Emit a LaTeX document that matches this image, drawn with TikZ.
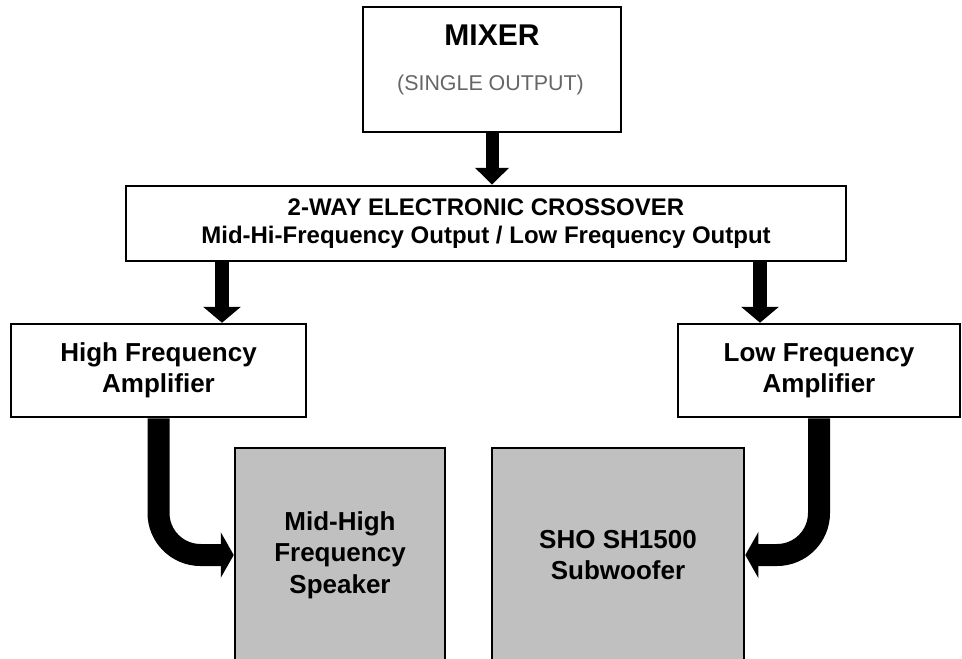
\documentclass[tikz,border=0pt]{standalone}
\usepackage{fontspec}
\setmainfont{Liberation Sans}
\usetikzlibrary{arrows.meta}
\definecolor{spkgray}{HTML}{C0C0C0}
\definecolor{subtext}{HTML}{666666}
\tikzset{
  box/.style={draw=black, line width=2.5pt, fill=white, inner sep=0pt},
  spkbox/.style={draw=black, line width=2.5pt, fill=spkgray, inner sep=0pt},
  lbl/.style={font=\fontsize{26}{31}\selectfont\bfseries, align=center, inner sep=0pt},
  arrA/.style={line width=13pt, -{Triangle[width=33pt,length=17pt]}},
  arrB/.style={line width=14pt, -{Triangle[width=37pt,length=16pt]}},
  arrC/.style={line width=22pt, rounded corners=42pt, -{Triangle[width=45pt,length=13pt]}}
}
\begin{document}
\begin{tikzpicture}[x=1pt,y=-1pt]
\useasboundingbox (0,0) rectangle (962,659);
\clip (0,0) rectangle (962,659);
% boxes
\node[box, minimum width=258pt, minimum height=125pt] (mix) at (492,69.5) {};
\node[anchor=base, inner sep=0pt] (mixt) at (492,45) {\fontsize{30}{30}\selectfont\bfseries MIXER};
\node[anchor=base, inner sep=0pt, text=subtext] (mixs) at (490.5,90) {\fontsize{21.4}{21.4}\selectfont (SINGLE OUTPUT)};
\node[box, minimum width=720pt, minimum height=75pt, font=\fontsize{24}{28}\selectfont\bfseries, align=center] (xo) at (486,223.5)
  {2-WAY ELECTRONIC CROSSOVER\\Mid-Hi-Frequency Output / Low Frequency Output};
\node[box, lbl, minimum width=295pt, minimum height=93pt] (hf) at (158.5,370.5) {High Frequency\\Amplifier};
\node[box, lbl, minimum width=282pt, minimum height=93pt] (lf) at (819,370.5) {Low Frequency\\Amplifier};
\node[spkbox, lbl, font=\fontsize{26}{31.5}\selectfont\bfseries, minimum width=210pt, minimum height=214pt] (spk) at (340,555) {Mid-High\\Frequency\\Speaker};
\node[spkbox, lbl, minimum width=252pt, minimum height=214pt] (sub) at (618,555) {SHO SH1500\\Subwoofer};
% connectors
\coordinate (hfin) at (222,323);
\coordinate (lfin) at (760,323);
\draw[arrA] (mix.south) -- (mix.south |- xo.north);
\draw[arrB] (xo.south -| hfin) -- (hf.north -| hfin);
\draw[arrB] (xo.south -| lfin) -- (lf.north -| lfin);
\draw[arrC] (hf.south) |- (spk.west);
\draw[arrC] (lf.south) |- (sub.east);
\end{tikzpicture}
\end{document}
